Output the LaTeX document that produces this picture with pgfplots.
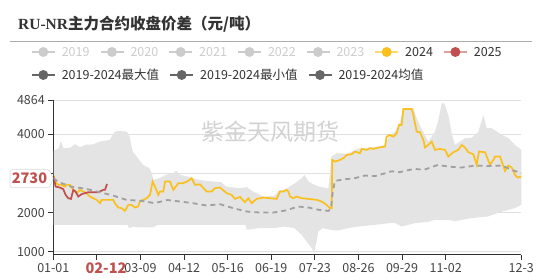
\documentclass[border=0pt]{standalone}
\usepackage{fontspec}
\setmainfont{Noto Sans CJK SC}
\newfontfamily\titleserif{Liberation Serif}
\usepackage{pgfplots}
\pgfplotsset{compat=1.18}
\usepgfplotslibrary{fillbetween}
\definecolor{bandc}{RGB}{228,228,228}
\definecolor{y24}{RGB}{250,192,30}
\definecolor{r25}{RGB}{192,80,77}
\definecolor{meangray}{RGB}{160,160,160}
\definecolor{axisdark}{RGB}{51,51,51}
\definecolor{gridc}{RGB}{224,224,224}
\definecolor{lbl}{RGB}{68,68,68}
\definecolor{inact}{RGB}{204,204,204}
\definecolor{legdark}{RGB}{102,102,102}
\definecolor{y24l}{RGB}{255,217,110}
\definecolor{r25l}{RGB}{222,160,158}
\definecolor{wm}{RGB}{210,210,210}
\begin{document}
\begin{tikzpicture}[x=1pt,y=1pt]
\begin{axis}[
  at={(53.3pt,25pt)}, anchor=south west, scale only axis,
  width=468pt, height=154.6pt,
  xmin=0, xmax=365, ymin=916, ymax=4864,
  axis x line*=bottom, axis y line*=left,
  xtick={0,34,68,102,136,170,204,238,272,306,365},
  xticklabels={01-01,,03-09,04-12,05-16,06-19,07-23,08-26,09-29,11-02,12-3},
  ytick={1000,2000,3000,4000,4864},
  yticklabels={1000,2000,,4000,4864},
  ymajorgrids, grid style={draw=gridc, line width=0.8pt},
  tick align=outside, major tick length=5pt,
  tick style={draw=axisdark, line width=0.8pt},
  axis line style={draw=axisdark, line width=1pt},
  ticklabel style={font=\fontsize{12.5}{14}\selectfont, text=lbl},
]
% 2019-2024 max
\addplot[name path=up, draw=none, forget plot] coordinates {
(0,3574) (2,3600) (4,3643) (6,3829) (8,3643) (13,3650) (17,3745) (21,3668) (25,3732) (31,3740) (36,3811) (44,3855) (48,4066) (52,4083) (57,4066) (59,4000) (62,3556) (66,3388) (70,3217) (75,3132) (77,3000) (78,2834) (83,2880) (88,2962) (93,3000) (96,3064) (99,2960) (101,2950) (105,2910) (108,2890) (114,2834) (122,2800) (131,2775) (135,2663) (145,2622) (151,2650) (156,2536) (164,2408) (172,2420) (176,2560) (181,2600) (188.5,2750) (193.7,2877) (196,2962) (199,2791) (203,2720) (207,2663) (214.5,2622) (217,3429) (221,3515) (229,3500) (238,3640) (245.8,3660) (251,3670) (259,3727) (263,4000) (266.5,4066) (270,4260) (271.7,4492) (273,4663) (281,4663) (283.4,4408) (287,4153) (292.5,3811) (297.7,4066) (300,4321) (303,4791) (305,4791) (308,4492) (311,3982) (313.3,3727) (321,3897) (326.3,3910) (331.5,4066) (335.4,4492) (338,4153) (342,4153) (350,3982) (355,3900) (360,3727) (365,3600)
};
% 2019-2024 min
\addplot[name path=lo, draw=none, forget plot] coordinates {
(0,1686) (58,1686) (59,1602) (62,1640) (66,1620) (78,1620) (81,1686) (150,1686) (151,1559) (160,1600) (172,1602) (180,1644) (188,1602) (193.7,1431) (197.6,1260) (201.5,1092) (203.3,964) (205.4,1260) (206.7,1517) (210,1602) (216,1559) (222,1540) (230,1602) (238,1644) (251,1686) (262,1729) (266.5,1729) (271.7,1644) (282,1729) (292,1760) (297.7,1814) (308,1814) (313,1780) (326,1857) (339,1900) (350,2026) (360,2112) (365,2197)
};
\addplot[fill=bandc, draw=none] fill between[of=up and lo];
% 2024
\addplot[y24, line width=1.7pt] coordinates {
(0,2962) (1.3,2791) (3.9,2707) (6.5,2707) (9.1,2663) (10.4,2707) (13,2707) (15.6,2579) (18.2,2494) (20.8,2579) (23.4,2536) (26,2494) (28.6,2408) (33.8,2324) (36.4,2239) (37.7,2324) (46.8,2324) (48,2239) (50.7,2128) (53.3,2111) (55.9,2043) (58.5,2196) (61,2196) (63.7,2128) (66,2150) (67.6,2281) (72.8,2366) (75.4,2451) (77.5,2791) (79.3,2663) (81.9,2451) (83.2,2536) (85.8,2536) (87.1,2791) (91,2791) (93.6,2579) (97.5,2750) (101.4,2750) (105.3,2809) (107.9,2877) (110.5,2707) (114.4,2720) (119.6,2536) (123.5,2536) (126.1,2622) (130,2640) (135.2,2494) (139.1,2451) (141.7,2349) (145.6,2400) (149.5,2264) (152.1,2366) (154.7,2239) (158.6,2349) (163.8,2383) (174.2,2349) (176.8,2536) (179.4,2536) (182,2579) (183.3,2536) (184.6,2409) (187.2,2366) (189.8,2409) (193.7,2366) (198.9,2349) (205.4,2324) (209.3,2281) (213.2,2196) (215.8,2111) (217.1,2111) (217.6,3344) (219.7,3301) (223.6,3344) (226.2,3387) (228.8,3472) (232.7,3489) (235.3,3557) (239.2,3514) (240.5,3625) (244.4,3600) (247,3643) (249.6,3625) (253.5,3659) (258.7,3685) (260,3939) (262.6,3982) (265.2,3939) (267.8,4025) (269.6,4237) (271.7,4237) (273,4645) (279.5,4645) (280.8,4492) (283.4,4066) (286,4050) (288.6,3855) (289.9,3659) (292.5,3727) (295.1,3812) (297.7,3600) (301.6,3625) (305.5,3600) (308.1,3429) (312,3541) (315.9,3600) (318.5,3727) (321.1,3659) (323.7,3541) (327.6,3489) (330.2,3217) (332,3557) (336.7,3541) (340.6,3217) (343.2,3344) (344.5,3429) (348.4,3429) (352.3,3064) (354.9,3200) (357.5,3150) (360.1,2962) (362.2,2894) (365,2920)
};
% 2025
\addplot[r25, line width=1.7pt] coordinates {
(0,2936) (1.8,2663) (5.2,2638) (7.8,2596) (9.6,2451) (11.7,2366) (13.8,2349) (15.6,2579) (17.4,2536) (19.5,2409) (22.1,2469) (24.7,2495) (27.3,2520) (35.1,2520) (39,2579) (40.3,2579) (41.9,2730)
};
% 2019-2024 mean
\addplot[meangray, line width=1.8pt, dash pattern=on 5pt off 4pt] coordinates {
(0,2880) (4,2780) (14,2660) (25,2610) (35,2530) (46,2440) (57,2324) (69,2298) (79,2239) (89,2320) (99,2281) (109,2239) (119.6,2179) (130,2213) (140.4,2111) (150.8,2026) (161,2000) (171.6,2000) (180.7,2050) (191,2153) (199,2128) (207,2070) (214.5,2043) (216.5,2100) (218,2536) (219.7,2809) (227.5,2851) (235,2877) (243,2945) (251,2930) (259,3005) (264,3055) (270,3030) (274,3064) (281.7,3115) (289,3090) (300,3217) (308,3174) (318.5,3149) (329,3200) (339,3190) (350,3200) (357.5,3090) (365,3005)
};
\draw[axisdark, line width=1pt] (rel axis cs:0,0) -- (rel axis cs:0,1);
\draw[axisdark, line width=1pt] (rel axis cs:0,0) -- (rel axis cs:1,0);
\end{axis}
% watermark
\node[text=wm, font=\fontsize{23}{25}\selectfont] at (270,148.3) {紫金天风期货};
% title
\node[anchor=west, inner sep=0, text=axisdark, font=\fontsize{15.5}{17}\selectfont\bfseries] at (18,256) {{\titleserif\bfseries RU-NR}主力合约收盘价差（元/吨）};
\draw[draw=gray!65, line width=0.9pt] (10,238.5) -- (532,238.5);
% legend row 1
\foreach \cx/\lab in {43.3/2019,112/2020,180.7/2021,249.5/2022,318/2023}{
  \draw[inact, line width=2pt] (\cx-11.5,228) -- (\cx+11.5,228);
  \fill[inact] (\cx,228) circle (5);
  \node[anchor=west, inner sep=0, text=inact, font=\fontsize{12.5}{14}\selectfont] at (\cx+18.3,228) {\lab};
}
\draw[y24l, line width=2pt] (375.2,228) -- (398.2,228);
\fill[y24] (386.7,228) circle (5);
\node[anchor=west, inner sep=0, text=axisdark, font=\fontsize{12.5}{14}\selectfont] at (405,228) {2024};
\draw[r25l, line width=2pt] (443.9,228) -- (466.9,228);
\fill[r25] (455.4,228) circle (5);
\node[anchor=west, inner sep=0, text=axisdark, font=\fontsize{12.5}{14}\selectfont] at (473.7,228) {2025};
% legend row 2
\foreach \cx/\lab in {43.3/2019-2024最大值,181.7/2019-2024最小值,320/2019-2024均值}{
  \draw[legdark, line width=2pt] (\cx-11.5,205) -- (\cx+11.5,205);
  \fill[legdark] (\cx,205) circle (5);
  \node[anchor=west, inner sep=0, text=axisdark, font=\fontsize{12.5}{14}\selectfont] at (\cx+18.3,205) {\lab};
}
% axis pointer labels
\node[text=r25, font=\fontsize{14.5}{16}\selectfont\bfseries] at (106,12) {02-12};
\filldraw[fill=white, draw=gray!30, line width=0.6pt, rounded corners=1.5pt] (10,92.3) -- (49,92.3) -- (53.5,101.3) -- (49,110.3) -- (10,110.3) -- cycle;
\node[text=r25, font=\fontsize{14.5}{16}\selectfont\bfseries] at (29.5,101.3) {2730};
\pgfresetboundingbox
\useasboundingbox (0,0) rectangle (542,280);
\end{tikzpicture}
\end{document}
